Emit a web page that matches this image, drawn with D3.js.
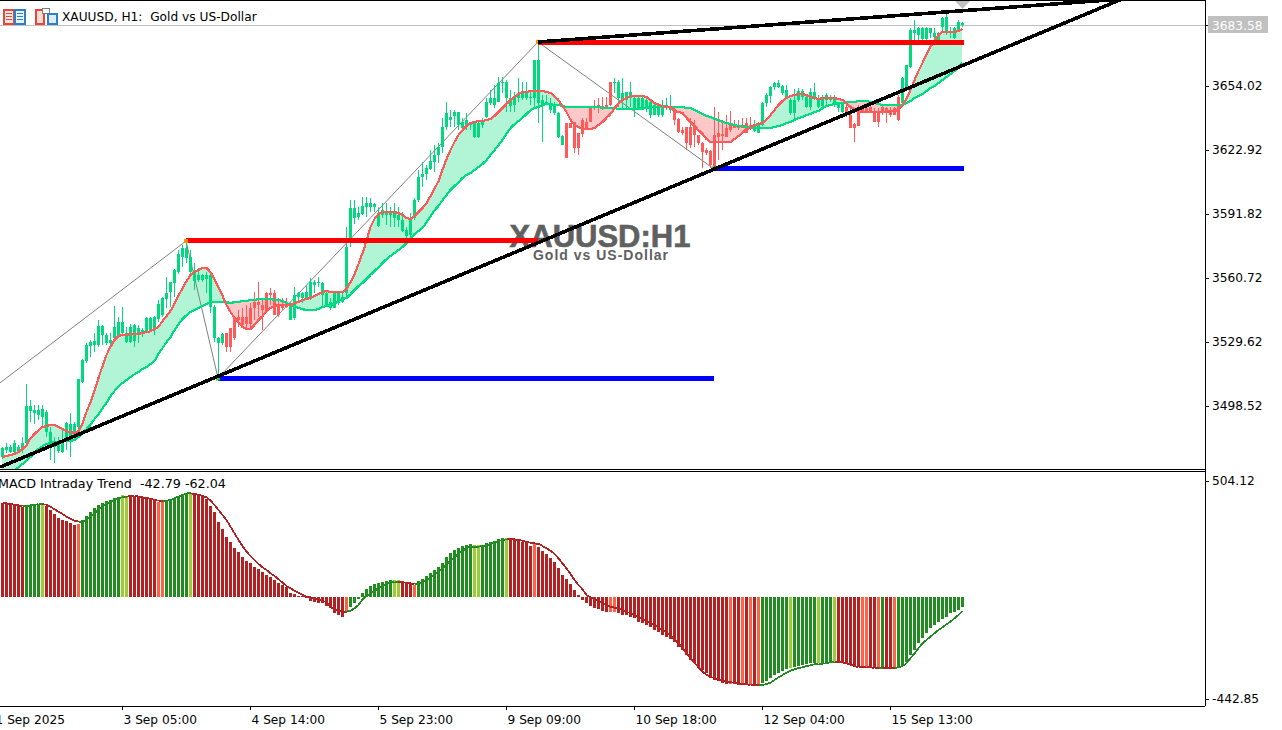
<!DOCTYPE html>
<html><head><meta charset="utf-8">
<script src="https://cdn.jsdelivr.net/npm/d3@7"></script>
<style>html,body{margin:0;padding:0;background:#fff;overflow:hidden}svg{display:block}text{white-space:pre}</style>
</head><body><div id="chart"></div>
<script>
const opens=[
3473.8,3477.1,3476.3,3476.3,3476.3,3477.1,3480.3,3496.2,3495.2,3494.1,
3493.0,3486.0,3479.5,3478.7,3476.8,3476.3,3481.1,3481.9,3482.8,3488.4,
3510.3,3520.5,3527.6,3528.1,3528.1,3533.0,3528.9,3528.9,3531.4,3532.5,
3533.8,3529.7,3529.7,3530.2,3533.5,3533.8,3534.6,3535.4,3535.4,3540.6,
3542.7,3550.3,3554.0,3558.1,3563.8,3571.0,3570.2,3563.8,3559.4,3559.7,
3559.7,3560.0,3546.4,3531.4,3528.9,3528.9,3527.3,3527.3,3531.4,3540.3,
3537.8,3538.3,3538.6,3545.9,3547.5,3545.1,3545.1,3552.4,3542.7,3542.7,
3545.9,3546.4,3540.3,3541.1,3551.6,3550.8,3550.8,3550.8,3557.3,3558.1,
3552.4,3547.5,3545.9,3545.9,3548.4,3549.2,3553.2,3580.0,3589.7,3590.5,
3591.8,3595.3,3595.3,3595.3,3585.9,3591.3,3591.3,3591.3,3589.7,3588.9,
3583.5,3581.1,3581.6,3589.7,3598.6,3609.9,3611.2,3613.5,3617.2,3620.4,
3624.5,3633.9,3637.5,3639.4,3635.0,3633.4,3635.0,3635.0,3629.0,3629.0,
3635.0,3638.8,3645.9,3644.8,3646.4,3655.3,3648.0,3644.3,3644.8,3648.0,
3648.0,3648.0,3648.0,3648.0,3645.6,3645.2,3644.8,3642.3,3640.7,3629.0,
3625.3,3618.8,3633.4,3623.7,3623.7,3630.7,3633.1,3636.6,3643.1,3643.1,
3643.1,3643.6,3644.8,3655.3,3648.0,3647.2,3647.2,3648.0,3643.1,3643.1,
3642.3,3643.1,3639.9,3639.9,3639.9,3639.9,3643.2,3642.3,3637.5,3631.8,
3631.0,3626.1,3625.3,3630.2,3626.1,3622.1,3621.3,3615.6,3614.8,3629.4,
3629.7,3629.4,3632.6,3633.4,3633.4,3633.4,3631.3,3633.4,3632.1,3631.3,
3635.0,3645.6,3649.3,3653.4,3653.4,3650.4,3648.8,3640.7,3640.7,3647.2,
3648.5,3644.0,3643.6,3648.0,3644.0,3644.3,3647.2,3647.2,3644.8,3643.1,
3641.5,3639.9,3633.4,3633.4,3634.6,3641.0,3641.5,3642.0,3636.7,3636.7,
3641.0,3641.0,3639.9,3639.9,3637.5,3645.6,3653.4,3663.1,3679.6,3678.8,
3676.7,3676.7,3679.9,3677.7,3676.4,3682.5,3680.4,3679.6,3677.2,3681.2,
3683.6];
const closes=[
3477.9,3478.7,3478.4,3480.3,3478.7,3480.3,3498.5,3498.5,3496.5,3496.8,
3497.3,3495.7,3486.0,3481.1,3480.3,3480.3,3490.4,3490.0,3490.0,3511.6,
3520.8,3528.1,3529.7,3530.1,3537.5,3537.5,3533.0,3530.5,3536.7,3539.5,
3539.1,3533.8,3537.0,3537.8,3536.2,3535.4,3541.1,3541.1,3541.6,3548.0,
3550.8,3553.5,3558.9,3564.6,3572.3,3575.1,3575.1,3571.0,3564.6,3562.1,
3562.1,3562.1,3562.1,3546.7,3531.7,3533.5,3533.8,3536.2,3541.1,3541.9,
3541.6,3541.6,3545.9,3549.2,3549.2,3547.5,3553.2,3553.5,3553.2,3547.5,
3547.5,3547.5,3547.5,3552.4,3553.2,3553.2,3554.0,3558.9,3558.9,3558.9,
3558.1,3553.2,3549.2,3553.2,3553.2,3551.6,3575.9,3594.5,3594.5,3592.1,
3595.7,3597.3,3597.0,3596.5,3592.1,3593.7,3592.9,3593.2,3592.1,3591.3,
3588.9,3584.0,3589.7,3598.6,3609.9,3611.5,3614.0,3617.5,3620.4,3624.5,
3633.9,3641.0,3638.8,3641.5,3641.5,3636.6,3637.5,3636.6,3635.8,3635.8,
3636.6,3646.4,3648.0,3648.0,3655.3,3656.1,3656.1,3648.0,3648.0,3649.6,
3650.4,3651.2,3648.8,3666.6,3666.6,3647.2,3646.4,3645.6,3644.8,3641.0,
3629.7,3635.8,3635.8,3636.6,3631.0,3637.5,3636.6,3643.1,3643.9,3644.8,
3644.4,3644.8,3656.1,3656.1,3656.1,3650.4,3651.2,3651.2,3648.0,3648.0,
3648.0,3647.2,3646.4,3644.8,3644.0,3644.0,3644.8,3644.0,3642.7,3637.8,
3632.6,3634.2,3634.2,3634.2,3630.2,3626.5,3622.9,3622.6,3630.2,3631.0,
3630.7,3633.4,3635.9,3635.5,3635.0,3634.6,3635.9,3635.0,3634.6,3635.0,
3645.6,3649.6,3653.4,3655.3,3655.6,3654.0,3652.1,3647.2,3647.2,3651.7,
3651.7,3648.8,3651.2,3651.2,3647.2,3647.5,3649.6,3648.8,3648.5,3645.6,
3645.6,3644.0,3639.9,3635.5,3642.3,3643.1,3643.1,3643.6,3641.5,3641.5,
3644.0,3643.1,3642.3,3643.1,3648.8,3657.7,3664.2,3681.2,3681.2,3682.0,
3682.0,3682.0,3682.0,3679.6,3679.6,3686.9,3687.4,3680.4,3682.0,3685.3,
3684.8];
const highs=[
3478.7,3480.3,3479.5,3481.9,3479.5,3483.6,3509.2,3501.4,3498.9,3498.9,
3498.9,3496.5,3488.4,3483.6,3483.6,3486.8,3490.9,3494.9,3490.9,3511.6,
3521.6,3528.9,3530.5,3533.8,3540.3,3537.8,3533.8,3533.8,3547.1,3541.9,
3546.7,3537.0,3538.6,3538.6,3537.8,3536.2,3541.9,3541.9,3542.2,3550.0,
3551.6,3561.3,3558.9,3564.9,3574.3,3576.7,3578.7,3574.3,3567.8,3565.4,
3562.9,3563.8,3563.8,3547.5,3532.2,3533.8,3533.8,3536.2,3541.9,3545.1,
3545.9,3547.5,3548.4,3554.0,3558.9,3550.8,3554.0,3555.7,3554.8,3550.8,
3550.8,3550.8,3549.2,3556.5,3554.0,3554.0,3557.3,3560.5,3559.7,3561.3,
3558.9,3554.0,3550.8,3554.0,3554.0,3554.0,3585.5,3598.6,3598.6,3595.3,
3600.2,3600.2,3599.4,3597.0,3595.3,3597.0,3597.0,3595.3,3597.0,3595.3,
3592.9,3585.6,3592.1,3599.4,3613.2,3617.2,3615.6,3622.9,3625.3,3626.1,
3638.3,3646.4,3642.3,3642.3,3641.5,3638.3,3640.7,3636.6,3636.6,3636.6,
3638.3,3648.0,3652.0,3654.5,3658.5,3658.5,3656.9,3652.0,3651.2,3657.7,
3656.1,3656.1,3652.0,3666.6,3675.5,3649.6,3649.6,3648.0,3646.4,3641.5,
3630.2,3635.8,3635.8,3636.6,3631.0,3638.3,3638.3,3643.1,3647.2,3648.0,
3648.8,3648.8,3656.1,3657.7,3656.9,3657.7,3651.2,3656.1,3648.8,3648.8,
3648.8,3648.8,3647.2,3645.6,3645.6,3647.2,3648.0,3649.6,3643.2,3638.3,
3634.2,3634.2,3638.3,3637.5,3630.2,3627.0,3623.7,3622.9,3644.0,3641.5,
3637.5,3639.9,3642.0,3637.5,3637.5,3638.3,3638.3,3639.1,3637.5,3636.7,
3646.4,3650.4,3654.0,3656.1,3656.9,3654.5,3654.5,3648.0,3652.4,3652.9,
3652.4,3649.1,3652.9,3655.3,3649.6,3649.6,3650.4,3649.6,3649.6,3646.4,
3645.6,3645.6,3644.0,3635.9,3644.8,3644.3,3645.6,3645.6,3643.2,3643.2,
3644.8,3644.0,3644.0,3644.0,3649.6,3658.2,3664.2,3682.0,3686.1,3682.8,
3682.8,3682.5,3682.0,3682.0,3680.4,3687.4,3689.6,3682.8,3682.8,3686.1,
3685.3];
const lows=[
3473.0,3475.5,3475.5,3475.5,3475.5,3475.5,3478.7,3490.9,3490.0,3491.7,
3488.4,3483.6,3472.2,3470.6,3475.5,3475.5,3477.1,3473.8,3481.9,3486.8,
3509.5,3519.2,3522.4,3524.9,3527.3,3528.1,3528.1,3528.1,3530.5,3531.4,
3533.0,3528.9,3528.9,3527.3,3528.9,3532.2,3533.8,3534.6,3533.0,3539.5,
3541.9,3545.9,3546.7,3551.6,3562.9,3566.2,3567.8,3562.9,3554.8,3558.9,
3558.9,3553.2,3543.5,3529.7,3511.9,3528.1,3524.9,3524.9,3530.5,3537.0,
3536.2,3536.2,3536.2,3540.3,3541.9,3535.4,3544.3,3547.5,3542.7,3541.9,
3545.1,3545.9,3540.3,3540.3,3548.4,3548.4,3550.8,3550.0,3553.2,3556.5,
3546.7,3546.7,3545.1,3545.9,3547.5,3548.4,3552.0,3575.9,3587.2,3588.9,
3591.3,3590.5,3592.9,3592.9,3585.6,3589.7,3586.4,3585.6,3585.6,3585.6,
3583.2,3580.0,3579.1,3588.9,3597.8,3605.1,3608.3,3613.2,3612.4,3616.4,
3621.3,3632.6,3634.2,3634.2,3632.6,3632.6,3632.6,3632.6,3628.6,3628.6,
3633.4,3638.3,3644.8,3643.1,3646.4,3650.4,3641.5,3641.5,3641.5,3646.4,
3647.2,3647.2,3644.8,3643.9,3635.8,3626.9,3644.8,3640.7,3639.9,3628.6,
3625.3,3618.8,3633.4,3621.3,3620.4,3629.4,3632.6,3636.6,3642.3,3640.7,
3642.3,3643.1,3644.3,3650.4,3643.9,3643.1,3643.1,3643.9,3639.1,3642.3,
3642.3,3641.5,3638.3,3639.9,3639.1,3639.1,3642.3,3640.7,3635.0,3631.0,
3630.2,3622.9,3623.7,3624.5,3625.3,3614.0,3620.5,3614.0,3614.0,3618.0,
3622.9,3629.4,3631.8,3633.4,3632.6,3633.4,3631.0,3632.6,3631.8,3631.0,
3634.6,3644.0,3645.6,3652.1,3652.9,3649.6,3648.0,3639.9,3637.5,3646.4,
3647.2,3643.2,3642.3,3647.2,3643.2,3642.3,3644.0,3646.4,3644.0,3641.5,
3640.7,3639.1,3633.4,3627.0,3634.6,3640.7,3640.7,3640.7,3636.7,3633.9,
3639.9,3635.9,3638.8,3639.9,3637.2,3645.6,3652.1,3662.6,3676.4,3676.4,
3676.4,3676.4,3677.2,3676.4,3676.0,3680.4,3678.8,3677.2,3676.7,3680.4,
3682.8];
const fastMA=[
3473.7,3474.2,3474.7,3475.2,3476.1,3477.6,3479.5,3482.9,3484.9,3486.8,
3488.3,3488.8,3489.3,3489.3,3488.3,3487.3,3486.3,3485.8,3485.4,3486.3,
3490.2,3495.6,3500.4,3505.8,3512.1,3517.9,3523.3,3527.2,3530.6,3532.5,
3533.0,3533.0,3533.5,3533.5,3533.5,3534.0,3534.4,3534.9,3535.9,3536.9,
3539.8,3542.2,3544.7,3548.1,3552.0,3555.8,3559.2,3562.2,3563.6,3564.6,
3565.6,3565.6,3563.6,3560.2,3556.3,3552.0,3547.6,3544.2,3541.3,3539.3,
3536.9,3535.9,3535.9,3537.9,3540.3,3542.2,3544.7,3546.1,3547.1,3547.6,
3547.6,3547.6,3547.6,3548.5,3549.0,3550.0,3550.5,3551.0,3552.0,3552.9,
3553.9,3554.4,3553.9,3553.9,3553.9,3553.9,3555.3,3558.7,3562.6,3567.5,
3572.8,3578.7,3585.5,3589.4,3591.8,3592.8,3592.8,3592.8,3592.8,3592.3,
3591.3,3589.9,3589.4,3590.8,3592.8,3594.7,3597.1,3600.5,3604.0,3607.8,
3613.2,3618.5,3622.9,3626.8,3630.2,3632.6,3634.6,3636.0,3636.5,3637.0,
3637.0,3637.5,3638.0,3639.4,3641.4,3643.3,3645.3,3647.2,3648.7,3650.1,
3651.1,3651.1,3651.6,3651.6,3651.6,3651.6,3651.1,3650.6,3649.1,3647.2,
3644.3,3641.4,3637.5,3635.0,3634.1,3633.1,3633.1,3633.1,3633.6,3635.0,
3636.5,3638.5,3640.4,3643.3,3645.3,3647.2,3648.2,3649.1,3649.1,3649.1,
3649.1,3648.7,3647.2,3645.7,3644.8,3644.3,3643.8,3643.8,3641.9,3641.4,
3640.9,3638.5,3636.5,3634.6,3632.6,3630.7,3628.2,3626.8,3626.8,3626.8,
3626.8,3626.8,3626.8,3628.2,3629.7,3631.2,3633.1,3633.6,3635.0,3635.5,
3636.0,3637.5,3639.9,3642.3,3644.8,3646.7,3648.2,3649.1,3649.6,3650.1,
3650.1,3649.6,3648.7,3648.2,3647.7,3648.2,3648.2,3648.2,3648.2,3647.7,
3647.2,3645.7,3643.8,3642.8,3641.9,3641.4,3641.4,3641.4,3641.4,3641.4,
3641.4,3641.4,3641.9,3641.9,3642.3,3644.8,3647.7,3652.1,3656.9,3661.3,
3665.2,3669.1,3673.0,3675.9,3678.8,3680.2,3680.2,3680.2,3680.2,3680.7,
3681.7];
const slowMA=[
3464.0,3464.9,3465.9,3467.4,3468.8,3470.3,3472.2,3473.7,3475.6,3477.6,
3479.0,3480.0,3480.5,3481.0,3481.0,3481.5,3481.5,3481.5,3482.0,3483.4,
3485.4,3487.3,3489.3,3492.2,3494.6,3497.5,3500.0,3503.3,3505.8,3508.2,
3509.7,3511.1,3512.6,3514.0,3515.0,3516.5,3517.4,3518.9,3520.4,3523.8,
3526.7,3529.6,3532.0,3535.4,3538.3,3540.8,3542.7,3544.2,3545.1,3546.1,
3547.1,3548.1,3549.0,3549.0,3549.0,3549.0,3549.0,3548.5,3549.0,3549.0,
3549.5,3549.5,3550.0,3550.0,3550.5,3550.5,3550.5,3550.5,3550.0,3550.0,
3549.5,3548.5,3547.6,3547.1,3546.1,3545.6,3545.1,3545.1,3545.1,3545.6,
3546.6,3547.1,3547.6,3548.1,3549.5,3550.5,3551.0,3552.9,3554.9,3556.8,
3558.3,3560.2,3562.2,3564.1,3566.0,3568.0,3569.9,3571.4,3572.8,3574.3,
3575.8,3577.7,3579.6,3582.1,3583.5,3585.0,3587.9,3590.8,3593.7,3595.7,
3598.6,3601.0,3603.5,3605.4,3607.3,3609.3,3610.8,3611.7,3613.2,3614.6,
3616.1,3618.0,3620.5,3622.9,3625.3,3627.8,3630.7,3633.6,3635.5,3637.0,
3638.5,3640.4,3642.3,3643.3,3643.8,3644.8,3645.3,3645.3,3644.8,3644.8,
3644.3,3643.8,3643.8,3643.8,3643.8,3643.8,3643.8,3643.8,3643.8,3643.8,
3643.3,3643.3,3643.3,3643.3,3642.8,3642.8,3642.8,3642.8,3642.8,3642.8,
3643.3,3643.3,3643.8,3643.8,3643.8,3643.8,3643.8,3643.8,3643.8,3643.8,
3643.8,3643.3,3643.3,3642.3,3641.4,3640.4,3639.4,3638.9,3638.0,3637.5,
3636.5,3636.0,3635.5,3635.0,3634.6,3634.6,3634.1,3634.1,3633.6,3633.6,
3633.6,3633.6,3633.6,3634.1,3634.6,3635.0,3636.0,3636.5,3637.5,3638.5,
3638.9,3639.9,3640.4,3641.4,3641.9,3643.3,3644.3,3644.8,3645.3,3645.7,
3645.7,3646.2,3646.2,3646.2,3646.7,3646.7,3646.7,3646.2,3645.7,3645.3,
3644.8,3644.8,3644.8,3644.8,3644.8,3644.8,3645.7,3646.7,3648.2,3649.1,
3650.1,3651.6,3653.0,3654.0,3655.5,3656.9,3658.4,3659.8,3661.3,3663.2,
3665.2];
const macdHist=[
405.4,401.1,399.6,398.2,393.9,388.1,393.9,395.3,399.6,401.1,
401.1,393.9,376.5,359.1,340.3,333.0,328.7,318.6,311.3,315.7,
333.0,351.9,369.2,383.7,398.2,408.3,415.6,419.9,427.2,434.4,
441.6,434.4,437.3,437.3,431.5,427.2,427.2,422.8,417.0,412.7,
415.6,417.0,419.9,427.2,434.4,441.6,448.9,451.8,448.9,441.6,
434.4,422.8,395.3,369.2,325.8,292.5,260.6,238.9,212.9,195.5,
173.8,156.4,144.8,130.3,120.2,108.6,94.1,86.9,72.4,57.9,
50.7,43.4,17.4,11.6,4.3,2.9,-4.3,-17.4,-21.7,-26.1,
-29.0,-40.5,-50.7,-69.5,-79.6,-86.9,-65.2,-43.4,-29.0,-10.1,
14.5,33.3,46.3,55.0,57.9,63.7,66.6,72.4,72.4,72.4,
65.2,60.8,57.9,50.7,68.1,75.3,89.8,101.4,115.8,130.3,
144.8,173.8,191.1,202.7,210.0,220.1,223.0,228.8,224.4,224.4,
224.4,231.7,236.0,241.8,249.1,253.4,253.4,249.1,249.1,246.2,
238.9,231.7,220.1,231.7,217.2,199.8,185.3,166.5,152.0,123.1,
94.1,75.3,55.0,29.0,7.2,-14.5,-26.1,-40.5,-47.8,-55.0,
-60.8,-65.2,-66.6,-66.6,-72.4,-79.6,-79.6,-89.8,-94.1,-108.6,
-112.9,-123.1,-130.3,-144.8,-152.0,-166.5,-173.8,-185.3,-195.5,-217.2,
-231.7,-253.4,-275.1,-282.4,-304.1,-318.6,-333.0,-354.8,-362.0,-364.9,
-373.6,-379.4,-380.8,-379.4,-383.7,-380.8,-383.7,-383.7,-388.1,-379.4,
-376.5,-364.9,-354.8,-340.3,-333.0,-321.5,-315.7,-311.3,-307.0,-301.2,
-296.8,-292.5,-289.6,-289.6,-289.6,-286.7,-286.7,-282.4,-282.4,-282.4,
-286.7,-289.6,-296.8,-301.2,-304.1,-307.0,-304.1,-307.0,-311.3,-307.0,
-307.0,-309.9,-309.9,-309.9,-307.0,-301.2,-282.4,-253.4,-231.7,-202.7,
-181.0,-156.4,-137.6,-123.1,-108.6,-98.5,-86.9,-72.4,-65.2,-57.9,
-42.79];
const macdSignal=[
408.3,405.4,402.5,399.6,396.8,393.9,393.9,396.8,399.6,401.1,
401.1,399.6,391.0,379.4,369.2,359.1,347.5,337.4,330.1,325.8,
325.8,333.0,347.5,362.0,376.5,391.0,402.5,412.7,419.9,427.2,
431.5,434.4,437.3,438.7,434.4,431.5,428.6,425.7,419.9,417.0,
417.0,417.0,419.9,427.2,434.4,441.6,448.9,448.9,446.0,443.1,
437.3,431.5,417.0,398.2,376.5,354.8,333.0,304.1,275.1,246.2,
220.1,195.5,176.7,159.3,141.9,127.4,115.8,101.4,89.8,75.3,
60.8,46.3,36.2,26.1,17.4,7.2,0,-2.9,-7.2,-11.6,
-17.4,-24.6,-46.3,-55.0,-60.8,-65.2,-65.2,-60.8,-50.7,-36.2,
-11.6,2.9,14.5,26.1,36.2,46.3,53.6,60.8,63.7,63.7,
62.3,60.8,57.9,55.0,55.0,62.3,72.4,84.0,94.1,108.6,
123.1,137.6,156.4,170.9,185.3,199.8,210.0,217.2,217.2,217.2,
220.1,223.0,228.8,234.6,241.8,246.2,249.1,249.1,249.1,246.2,
243.3,237.5,234.6,231.7,228.8,220.1,210.0,199.8,185.3,166.5,
144.8,123.1,98.5,72.4,50.7,31.9,7.2,-2.9,-11.6,-17.4,
-29.0,-36.2,-43.4,-47.8,-52.1,-57.9,-65.2,-72.4,-79.6,-89.8,
-98.5,-104.3,-112.9,-123.1,-133.2,-144.8,-156.4,-170.9,-185.3,-202.7,
-224.4,-246.2,-267.9,-286.7,-307.0,-325.8,-340.3,-347.5,-354.8,-359.1,
-366.3,-369.2,-372.1,-373.6,-376.5,-379.4,-380.8,-383.7,-383.7,-383.7,
-383.7,-379.4,-373.6,-362.0,-350.4,-340.3,-330.1,-321.5,-315.7,-309.9,
-307.0,-301.2,-298.3,-293.9,-291.0,-291.0,-289.6,-285.3,-282.4,-282.4,
-285.3,-289.6,-295.4,-301.2,-307.0,-307.0,-304.1,-307.0,-311.3,-311.3,
-311.3,-309.9,-309.9,-309.9,-307.0,-301.2,-289.6,-267.9,-246.2,-224.4,
-202.7,-188.2,-173.8,-159.3,-144.8,-133.2,-120.2,-108.6,-94.1,-79.6,
-62.04];
// runs of histogram state: g rising strong, l rising weak, r falling strong, o falling weak
const histStates=[["r",6],["g",4],["l",1],["r",8],["o",1],["g",10],["l",2],["r",7],["o",2],["g",6],["l",1],
["r",38],["o",1],["g",11],["l",2],["r",3],["o",1],["g",14],["l",2],["g",6],["l",1],["r",6],["o",1],["r",18],["o",2],
["r",28],["o",1],["r",2],["o",1],["r",1],["o",1],["r",1],["o",1],["g",7],["l",1],["g",6],["l",1],["g",3],["l",1],
["r",6],["o",2],["r",2],["o",1],["g",1],["r",2],["o",1],["g",17]];

const priceTicks=[3654.02,3622.92,3591.82,3560.72,3529.62,3498.52];
const lastPrice=3683.58;
const macdTicks=[504.12,-442.85];
const timeTickBars=[-2,30,62,94,126,158,190,222];
const timeTickLabels=["1 Sep 2025","3 Sep 05:00","4 Sep 14:00","5 Sep 23:00","9 Sep 09:00","10 Sep 18:00","12 Sep 04:00","15 Sep 13:00"];
const zigzagBars=[-1,46,54,134,178];
const zigzagPrices=[3509.0,3578.7,3512.1,3675.4,3613.7];
const resistanceLevels=[{from:46,to:134,price:3578.7},{from:134,to:240.5,price:3675.4}];
const supportLevels=[{from:54,to:178,price:3512.1},{from:178,to:240.5,price:3613.7}];
const trendLines=[{bars:[-0.5,280],prices:[3468.8,3696.3]},{bars:[134,280],prices:[3675.4,3696.3]}];
const pivotHighs=[46,134];
const pivotLows=[54,178];

const W=1282,H=730,AX=1205,TOP_B=469,SUB_T=471,SUB_B=706;
const F='"DejaVu Sans",sans-serif';
const C={up:"#00D97E",dn:"#FF5A5A",fast:"#FF5A5A",slow:"#00DC82",cloudUp:"#B2F5D6",cloudDn:"#FFC8C8",
  g:"#228B22",l:"#9ACD32",r:"#B22222",o:"#FF6347"};

const states=histStates.flatMap(([s,n])=>Array(n).fill(s));
const x=d3.scaleLinear().domain([0,240]).range([2,962]);
const y=d3.scaleLinear().domain([3654.02,3498.52]).range([86,406]);
const ym=d3.scaleLinear().domain([504.12,-442.85]).range([480.6,698.6]);
const bars=d3.range(closes.length);

const svg=d3.select("#chart").append("svg").attr("width",W).attr("height",H).attr("font-family",F);
svg.append("rect").attr("width",W).attr("height",H).attr("fill","#fff");
const defs=svg.append("defs");
defs.append("clipPath").attr("id","cp").append("rect").attr("x",0).attr("y",1).attr("width",AX).attr("height",TOP_B-1);
defs.append("clipPath").attr("id","cm").append("rect").attr("x",0).attr("y",SUB_T+1).attr("width",AX).attr("height",SUB_B-SUB_T-1);

const main=svg.append("g").attr("clip-path","url(#cp)");
// last price line
main.append("line").attr("x1",0).attr("x2",AX).attr("y1",Math.round(y(lastPrice))+.5).attr("y2",Math.round(y(lastPrice))+.5).attr("stroke","#C0C0C0");
// watermark
main.append("text").attr("x",600).attr("y",247).attr("text-anchor","middle").attr("font-family",'"Liberation Sans",Arial,sans-serif')
  .attr("font-weight","bold").attr("font-size",31).attr("fill","#606060").attr("stroke","#606060").attr("stroke-width",.6).text("XAUUSD:H1");
main.append("text").attr("x",601).attr("y",260).attr("text-anchor","middle").attr("font-family",'"Liberation Sans",Arial,sans-serif')
  .attr("font-weight","bold").attr("font-size",14).attr("letter-spacing",1).attr("fill","#606060").text("Gold vs US-Dollar");
// cloud
const cloud=(fn)=>d3.area().x(i=>x(i)).y0(i=>y(slowMA[i])).y1(i=>y(fn(fastMA[i],slowMA[i])));
main.append("path").attr("d",cloud(Math.max)(bars)).attr("fill",C.cloudUp);
main.append("path").attr("d",cloud(Math.min)(bars)).attr("fill",C.cloudDn);
// zigzag
main.append("path").attr("fill","none").attr("stroke","#808080").attr("stroke-width",1)
  .attr("d",d3.line().x((b)=>x(b)).y((b,k)=>y(zigzagPrices[k]))(zigzagBars));
// candles
const cg=main.append("g").attr("shape-rendering","crispEdges");
const col=i=>fastMA[i]<slowMA[i]?C.dn:C.up;
cg.selectAll("line").data(bars).join("line").attr("x1",i=>x(i)+.5).attr("x2",i=>x(i)+.5)
  .attr("y1",i=>y(highs[i])).attr("y2",i=>y(lows[i])).attr("stroke",col);
cg.selectAll("rect").data(bars).join("rect").attr("x",i=>x(i)-1).attr("width",3)
  .attr("y",i=>y(Math.max(opens[i],closes[i]))).attr("height",i=>Math.max(1,Math.abs(y(opens[i])-y(closes[i])))).attr("fill",col);
// MAs
const maLine=a=>d3.line().x(i=>x(i)+.5).y(i=>y(a[i]))(bars);
main.append("path").attr("d",maLine(slowMA)).attr("fill","none").attr("stroke",C.slow).attr("stroke-width",2.2).attr("shape-rendering","crispEdges");
main.append("path").attr("d",maLine(fastMA)).attr("fill","none").attr("stroke",C.fast).attr("stroke-width",2.2).attr("shape-rendering","crispEdges");
// levels
const lvl=main.append("g").attr("shape-rendering","crispEdges");
lvl.selectAll(".res").data(resistanceLevels).join("line").attr("class","res").attr("x1",d=>x(d.from)).attr("x2",d=>x(d.to))
  .attr("y1",d=>y(d.price)).attr("y2",d=>y(d.price)).attr("stroke","#FF0000").attr("stroke-width",5);
lvl.selectAll(".sup").data(supportLevels).join("line").attr("class","sup").attr("x1",d=>x(d.from)).attr("x2",d=>x(d.to))
  .attr("y1",d=>y(d.price)).attr("y2",d=>y(d.price)).attr("stroke","#0000FF").attr("stroke-width",5);
// pivots
main.selectAll(".ph").data(pivotHighs).join("rect").attr("class","ph").attr("x",b=>x(b)-2).attr("y",b=>y(highs[b])-2).attr("width",4).attr("height",4).attr("fill","#FF8C00");
main.selectAll(".pl").data(pivotLows).join("rect").attr("class","pl").attr("x",b=>x(b)-2).attr("y",b=>y(lows[b])-2).attr("width",4).attr("height",4).attr("fill","#32CD32");
// trend lines
main.selectAll(".tl").data(trendLines).join("line").attr("class","tl").attr("x1",d=>x(d.bars[0])).attr("x2",d=>x(d.bars[1]))
  .attr("y1",d=>y(d.prices[0])).attr("y2",d=>y(d.prices[1])).attr("stroke","#000").attr("stroke-width",3.6).attr("shape-rendering","crispEdges");
// shift marker
main.append("path").attr("d","M955 1H970L962.5 9Z").attr("fill","#C0C0C0");

// MACD panel
const sub=svg.append("g").attr("clip-path","url(#cm)");
const hg=sub.append("g").attr("shape-rendering","crispEdges");
hg.selectAll("rect").data(bars).join("rect").attr("x",i=>x(i)-1).attr("width",3)
  .attr("y",i=>Math.min(ym(0),ym(macdHist[i]))).attr("height",i=>Math.max(1,Math.abs(ym(macdHist[i])-ym(0))))
  .attr("fill",i=>C[states[i]]);
const sg=sub.append("g").attr("shape-rendering","crispEdges");
const segLine=d3.line().x(i=>x(i)+.5).y(i=>ym(macdSignal[i]));
sg.selectAll("path").data(bars.slice(1)).join("path").attr("d",i=>segLine([i-1,i])).attr("fill","none")
  .attr("stroke",i=>(states[i]==="g"||states[i]==="l")?C.g:C.r).attr("stroke-width",1.8);

// frame
const fr=svg.append("g").attr("stroke","#000").attr("shape-rendering","crispEdges");
[[0,AX,0.5,0.5],[0,AX,TOP_B+.5,TOP_B+.5],[0,AX,SUB_T+.5,SUB_T+.5],[0,AX,SUB_B+.5,SUB_B+.5],[AX+.5,AX+.5,0,SUB_B]].forEach(l=>
  fr.append("line").attr("x1",l[0]).attr("x2",l[1]).attr("y1",l[2]).attr("y2",l[3]));

// axes
const styleAxis=g=>{g.select(".domain").remove();g.selectAll("text").attr("font-family",F).attr("font-size",12.2).attr("fill","#000");
  g.selectAll("line").attr("stroke","#000").attr("shape-rendering","crispEdges");};
svg.append("g").attr("transform",`translate(${AX},0)`)
  .call(d3.axisRight(y).tickValues(priceTicks).tickSize(4).tickPadding(3).tickFormat(d=>d.toFixed(2))).call(styleAxis);
svg.append("g").attr("transform",`translate(${AX},0)`)
  .call(d3.axisRight(ym).tickValues(macdTicks).tickSize(4).tickPadding(3).tickFormat(d=>d.toFixed(2))).call(styleAxis);
const xa=svg.append("g").attr("transform",`translate(0,${SUB_B})`)
  .call(d3.axisBottom(x).tickValues(timeTickBars).tickSize(4).tickFormat((d,i)=>timeTickLabels[i])).call(styleAxis);
xa.selectAll("text").attr("text-anchor","start").attr("dx",1).attr("y",9).attr("dy","0.71em");

// last price tag
const lp=svg.append("g");
lp.append("line").attr("x1",AX).attr("x2",AX+4).attr("y1",y(lastPrice)).attr("y2",y(lastPrice)).attr("stroke","#000").attr("shape-rendering","crispEdges");
lp.append("rect").attr("x",1208).attr("y",16).attr("width",60).attr("height",17).attr("fill","#C0C0C0");
lp.append("text").attr("x",1212).attr("y",y(lastPrice)+4.5).attr("font-size",12.2).attr("fill","#fff").text(lastPrice.toFixed(2));

// titles
svg.append("text").attr("x",62).attr("y",21).attr("font-size",12.2).attr("fill","#000").text("XAUUSD, H1:  Gold vs US-Dollar");
svg.append("text").attr("x",-2).attr("y",488).attr("font-size",12.7).attr("fill","#000")
  .text(`MACD Intraday Trend  ${macdHist[macdHist.length-1].toFixed(2)} ${macdSignal[macdSignal.length-1].toFixed(2)}`);

// toolbar icons
const ic=svg.append("g").attr("shape-rendering","crispEdges");
const R=(px,py,w,h,f,s,sw)=>ic.append("rect").attr("x",px+.5).attr("y",py+.5).attr("width",w).attr("height",h).attr("fill",f).attr("stroke",s||"none").attr("stroke-width",sw||1);
R(3,9,10,14,"#FFE8E4","#E8453C",2);R(14,9,10,14,"#E8F2FC","#2F7FC1",2);
[12,15,18].forEach(v=>{R(5,v,6,1,"#E8453C");R(16,v,6,1,"#2F7FC1");});
R(35,9,8,14,"#FFDCD0","#E8453C",2);R(42,8,7,5,"#FFFFFF","#808080");R(47,13,9,10,"#D8ECFA","#2F7FC1",2);

if([opens,closes,highs,lows,fastMA,slowMA,macdHist,macdSignal,states].some(a=>a.length!==241))
  throw new Error("len "+[opens,closes,highs,lows,fastMA,slowMA,macdHist,macdSignal,states].map(a=>a.length).join());
</script></body></html>
